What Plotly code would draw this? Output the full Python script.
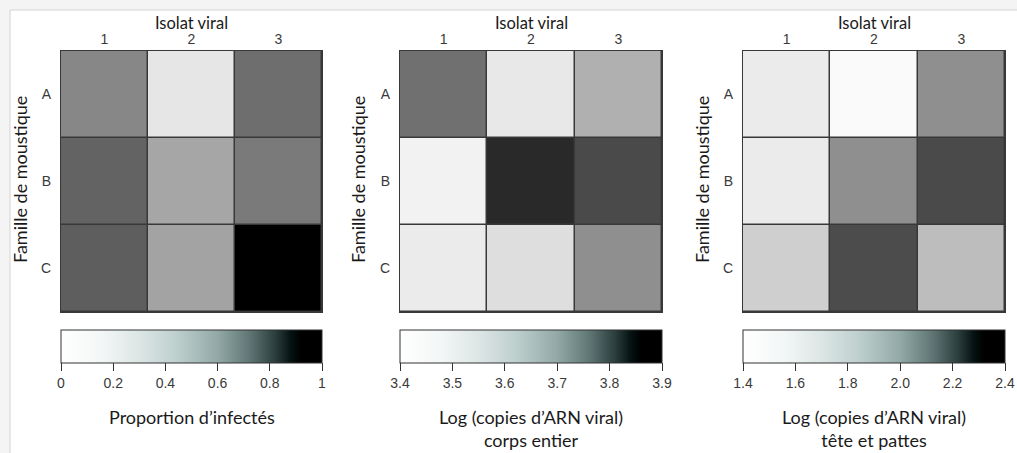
import plotly.graph_objects as go

W, H = 1017, 453

isolats = ["1", "2", "3"]
familles = ["A", "B", "C"]

# Panel 1: proportion d'infectés (0 - 1)
prop_infectes = [
    [0.47, 0.10, 0.57],
    [0.61, 0.35, 0.52],
    [0.63, 0.36, 1.00],
]
# Panel 2: log copies ARN viral, corps entier (3.4 - 3.9)
log_corps = [
    [3.68, 3.445, 3.555],
    [3.425, 3.82, 3.755],
    [3.44, 3.465, 3.62],
]
# Panel 3: log copies ARN viral, tête et pattes (1.4 - 2.4)
log_tete = [
    [1.48, 1.42, 1.84],
    [1.48, 1.84, 2.11],
    [1.59, 2.10, 1.66],
]

ranges = [(0, 1), (3.4, 3.9), (1.4, 2.4)]
cb_dticks = [0.2, 0.1, 0.2]
cb_formats = ["", ".1f", ".1f"]
cb_titles = [
    "Proportion d’infectés",
    "Log (copies d’ARN viral)<br>corps entier",
    "Log (copies d’ARN viral)<br>tête et pattes",
]
panels = [prop_infectes, log_corps, log_tete]

# pixel layout
hm_x = [(61, 322), (400, 662), (743, 1005)]
hm_y = (51, 312)
ytitle_x = [20, 358, 702]

gray_scale = [[0, "#ffffff"], [1, "#000000"]]
teal_scale = [
    [0.0, "#ffffff"], [0.15, "#f4f7f7"], [0.3, "#dce6e5"], [0.45, "#bccecc"],
    [0.6, "#93a9a7"], [0.72, "#617776"], [0.82, "#2c3e3e"], [0.88, "#061212"],
    [0.92, "#000000"], [1.0, "#000000"],
]

def px(x):
    return x / W

def py(y):
    return 1 - y / H

fig = go.Figure()
annotations = []
tick_font = dict(family="Liberation Sans, Arial", size=14, color="#3a3a3a")
top_title_font = dict(family="Lato, Open Sans", size=16.5, color="#1a1a1a")
title_font = dict(family="Lato, Open Sans", size=18, color="#1a1a1a")

for i, (z, (zmin, zmax)) in enumerate(zip(panels, ranges)):
    n = "" if i == 0 else str(i + 1)
    xa, ya = "x" + n, "y" + n
    fig.add_trace(go.Heatmap(
        z=z, x=isolats, y=familles, zmin=zmin, zmax=zmax,
        colorscale=gray_scale, showscale=False, xgap=1.5, ygap=1.5,
        xaxis=xa, yaxis=ya, hoverinfo="skip",
    ))
    x0, x1 = hm_x[i]
    fig.add_trace(go.Scatter(
        x=[None], y=[None], mode="markers", xaxis=xa, yaxis=ya,
        showlegend=False, hoverinfo="skip",
        marker=dict(
            color=[zmin], cmin=zmin, cmax=zmax, colorscale=teal_scale, showscale=True,
            colorbar=dict(
                orientation="h", lenmode="pixels", len=x1 - x0,
                thicknessmode="pixels", thickness=33,
                x=px((x0 + x1) / 2), xanchor="center",
                y=py(330), yanchor="top", xpad=0, ypad=0,
                outlinewidth=1, outlinecolor="#333333",
                ticks="outside", ticklen=8, tickcolor="#333333", tickwidth=1,
                tick0=zmin, dtick=cb_dticks[i], tickformat=cb_formats[i],
                tickfont=dict(family="Liberation Sans, Arial", size=14, color="#3a3a3a"),
            ),
        ),
    ))
    fig.layout["xaxis" + n] = dict(
        domain=[px(x0), px(x1)], anchor=ya, side="top", type="category",
        showline=True, mirror=True, linecolor="#383838", linewidth=1.2,
        ticks="", tickfont=tick_font, showgrid=False, zeroline=False,
        fixedrange=True,
    )
    fig.layout["yaxis" + n] = dict(
        domain=[py(hm_y[1]), py(hm_y[0])], anchor=xa, type="category",
        autorange="reversed",
        showline=True, mirror=True, linecolor="#383838", linewidth=1.2,
        ticks="", tickfont=tick_font, showgrid=False, zeroline=False,
        ticklabelstandoff=6, fixedrange=True,
    )
    cx = px((x0 + x1) / 2)
    annotations.append(dict(text="Isolat viral", x=cx, y=py(23), xref="paper", yref="paper",
                            showarrow=False, font=top_title_font, xanchor="center", yanchor="middle"))
    annotations.append(dict(text="Famille de moustique", x=px(ytitle_x[i]), y=py(180),
                            xref="paper", yref="paper", showarrow=False, textangle=-90,
                            font=title_font, xanchor="center", yanchor="middle"))
    annotations.append(dict(text=cb_titles[i], x=cx, y=py(404), xref="paper", yref="paper",
                            showarrow=False, font=title_font, xanchor="center", yanchor="top"))

band = "#f4f4f4"
fig.update_layout(
    width=W, height=H, margin=dict(l=0, r=0, t=0, b=0),
    paper_bgcolor="#ffffff", plot_bgcolor="#383838",
    annotations=annotations,
    shapes=[
        dict(type="rect", xref="paper", yref="paper", x0=0, x1=1, y0=py(10), y1=1,
             fillcolor=band, line=dict(width=0), layer="below"),
        dict(type="rect", xref="paper", yref="paper", x0=0, x1=px(10), y0=0, y1=1,
             fillcolor=band, line=dict(width=0), layer="below"),
        dict(type="line", xref="paper", yref="paper", x0=px(10), x1=1, y0=py(10), y1=py(10),
             line=dict(color="#d4d4d4", width=1)),
        dict(type="line", xref="paper", yref="paper", x0=px(10), x1=px(10), y0=0, y1=py(10),
             line=dict(color="#d4d4d4", width=1)),
    ],
)

fig.write_html("out.html")
